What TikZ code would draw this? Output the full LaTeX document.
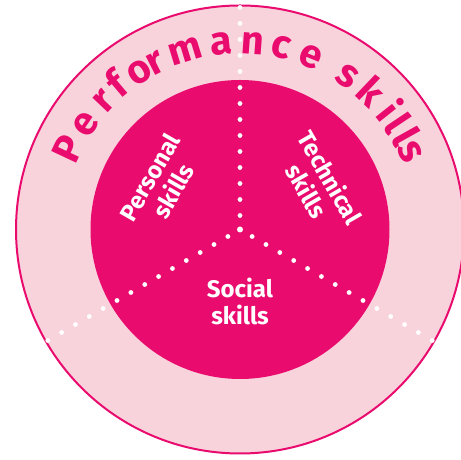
\documentclass[tikz,border=0pt]{standalone}
\usepackage{fontspec}
\setmainfont{Fira Sans}
\definecolor{skillpink}{RGB}{233, 11, 110}
\definecolor{ringpink}{RGB}{249, 211, 219}
\usetikzlibrary{positioning}

\begin{document}
\begin{tikzpicture}[x=1pt, y=1pt,
  ring/.style={fill=ringpink, draw=skillpink, line width=2pt},
  core/.style={fill=skillpink},
  ringletter/.style={text=skillpink, font=\bfseries\fontsize{34}{34}\selectfont, anchor=base, inner sep=0pt, scale=1.17},
  segment/.style={text=white, font=\bfseries\fontsize{24}{27}\selectfont, align=center, inner sep=0pt},
  dot/.style={fill=white, circle, inner sep=0pt, minimum size=4.8pt}]
  \useasboundingbox (0,0) rectangle (461,460);
  \coordinate (c) at (240,230.5);

  % rings
  \draw[ring] (c) circle[radius=224pt];
  \fill[core] (c) circle[radius=149.5pt];

  % dotted dividers
  \foreach \ang in {90,210,330}
    \foreach \k in {0,...,13}
      \node[dot] at ([shift={(\ang:14+16*\k)}]c) {};
  \node[dot, minimum size=6pt] at (c) {};

  % title round the ring
  \foreach \letter/\ang in {P/154.8, e/145.8, r/136.6, f/130.2, o/122.4, r/116.9,
      m/107, a/95.6, n/86, c/77.3, e/67.8, s/54.9, k/46.4, i/38.4, l/33.8,
      l/29.2, s/24.5}
    \node[ringletter, rotate=\ang-90] at ([shift={(\ang:176)}]c) {\letter};

  % segments
  \node[segment, rotate=60] (personal) at ([shift={(150:91)}]c) {Personal\\skills};
  \node[segment, rotate=-60] (technical) at ([shift={(30:91)}]c) {Technical\\skills};
  \node[segment] (social) at ([shift={(270:72)}]c) {Social\\skills};
\end{tikzpicture}
\end{document}
